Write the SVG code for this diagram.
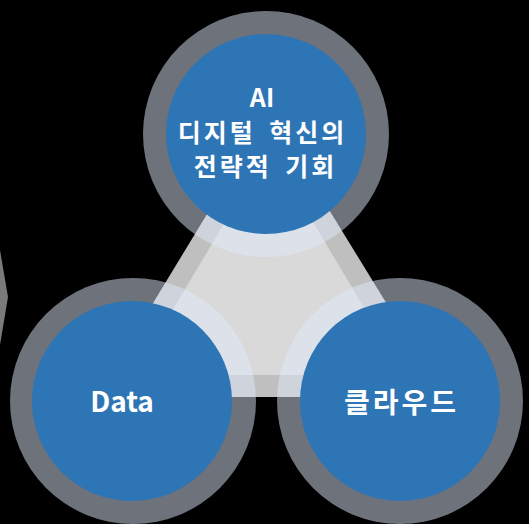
<svg xmlns="http://www.w3.org/2000/svg" width="529" height="524" viewBox="0 0 529 524">
<style>
.ring{fill:rgb(223,233,250);fill-opacity:0.49}
.core{fill:#2e75b6}
.lbl{font-family:"Noto Sans CJK KR","Noto Sans",sans-serif;font-weight:bold;fill:#ffffff;text-anchor:middle}
.ko{font-size:25px;letter-spacing:3px;word-spacing:5px}
</style>
<rect width="529" height="524" fill="#000000"/>
<polygon points="0,250 8,297 0,345" fill="#7a7a7a"/>
<g id="triangle">
<polygon points="269,112 96,397 444,397" fill="#bfbfbf"/>
<polygon points="269,148 134,375 404,375" fill="#d9d9d9"/>
</g>
<g id="node-ai">
<circle class="ring" cx="266" cy="134" r="123"/>
<circle class="core" cx="266" cy="134" r="100"/>
<text class="lbl" font-size="25"><tspan x="262" y="107">AI</tspan><tspan class="ko" x="262.5" y="142">디지털 혁신의</tspan><tspan class="ko" x="265.5" y="176">전략적 기회</tspan></text>
</g>
<g id="node-data">
<circle class="ring" cx="133" cy="401" r="123"/>
<circle class="core" cx="132" cy="401" r="100"/>
<text class="lbl" x="122" y="412" font-size="28">Data</text>
</g>
<g id="node-cloud">
<circle class="ring" cx="400" cy="401" r="123"/>
<circle class="core" cx="400" cy="401" r="100"/>
<text class="lbl" x="401.5" y="413" font-size="28" letter-spacing="3">클라우드</text>
</g>
</svg>
